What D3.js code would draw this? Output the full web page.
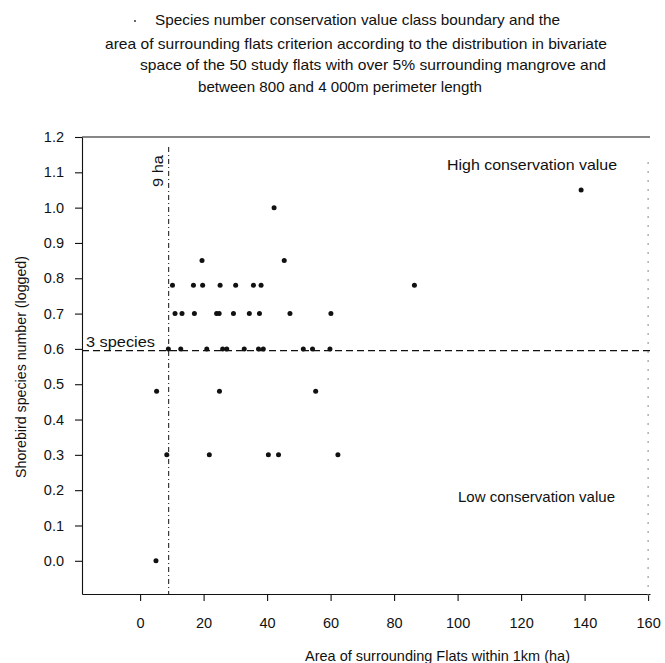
<!DOCTYPE html>
<html>
<head>
<meta charset="utf-8">
<script src="https://cdn.jsdelivr.net/npm/d3@7"></script>
<style>
  body { margin: 0; background: #fff; }
  text { font-family: "Liberation Sans", Arial, sans-serif; fill: #111; }
</style>
</head>
<body>
<div id="svg-container"></div>
<script>
////////////////////////////////////////////////////////////////////
////////////////////////////  Data  ////////////////////////////////
// area of surrounding flats (ha) / shorebird species number (logged)
const areaHa = [
  19.5, 45.4,
  10.2, 16.8, 19.7, 25.2, 30.1, 35.7, 38.1, 86.4,
  11.0, 13.2, 17.1, 24.1, 24.9, 29.4, 34.4, 37.6, 47.2, 60.1,
  8.9, 12.8, 21.0, 26.0, 27.3, 32.8, 37.3, 38.8, 51.4, 54.3, 59.8,
  42.2, 138.9,
  5.2, 25.0, 55.3,
  8.4, 21.8, 40.4, 43.6, 62.3,
  5.0,
];
const speciesLog = [
  0.85, 0.85,
  0.78, 0.78, 0.78, 0.78, 0.78, 0.78, 0.78, 0.78,
  0.70, 0.70, 0.70, 0.70, 0.70, 0.70, 0.70, 0.70, 0.70, 0.70,
  0.60, 0.60, 0.60, 0.60, 0.60, 0.60, 0.60, 0.60, 0.60, 0.60, 0.60,
  1.00, 1.05,
  0.48, 0.48, 0.48,
  0.30, 0.30, 0.30, 0.30, 0.30,
  0.00,
];

const xTicks = [0, 20, 40, 60, 80, 100, 120, 140, 160];
const yTicks = [0, 0.1, 0.2, 0.3, 0.4, 0.5, 0.6, 0.7, 0.8, 0.9, 1.0, 1.1, 1.2];

// class boundaries
const areaCriterion = 9;       // 9 ha
const speciesBoundary = 0.595; // 3 species

const titleLines = [
  "Species number conservation value class boundary and the",
  "area of surrounding flats criterion according to the distribution in bivariate",
  "space of the 50 study flats with over 5% surrounding mangrove  and",
  "between 800 and 4 000m perimeter length",
];

////////////////////////////////////////////////////////////////////
////////////////////////////  Init  ////////////////////////////////
const width = 665;
const height = 663;
const margin = { top: 137, right: 15, bottom: 69, left: 82 };

const svg = d3
  .select("#svg-container")
  .append("svg")
  .attr("width", width)
  .attr("height", height);

const x = d3
  .scaleLinear()
  .domain([-18.3, 160.6])
  .range([margin.left, width - margin.right]);

const y = d3
  .scaleLinear()
  .domain([-0.094, 1.2])
  .range([height - margin.bottom, margin.top]);

// title (scan lines have uneven widths)
const titleX = [155, 105, 140, 198];
const titleY = [25, 49, 70, 92];
const titleW = [405, 502, 466, 284];
svg
  .selectAll(".title")
  .data(titleLines)
  .enter()
  .append("text")
  .attr("class", "title")
  .attr("x", (d, i) => titleX[i])
  .attr("y", (d, i) => titleY[i])
  .attr("textLength", (d, i) => titleW[i])
  .attr("lengthAdjust", "spacingAndGlyphs")
  .style("font-size", "14.5px")
  .text((d) => d);

svg
  .append("circle")
  .attr("cx", 135)
  .attr("cy", 21)
  .attr("r", 0.9)
  .attr("fill", "#222");

////////////////////////////////////////////////////////////////////
////////////////////////////  Axes  ////////////////////////////////
const xAxis = svg
  .append("g")
  .attr("transform", `translate(0,${y.range()[0]})`)
  .call(
    d3.axisBottom(x).tickValues(xTicks).tickSize(7).tickPadding(17).tickSizeOuter(0)
  );

const yAxis = svg
  .append("g")
  .attr("transform", `translate(${x.range()[0]},0)`)
  .call(
    d3
      .axisLeft(y)
      .tickValues(yTicks)
      .tickFormat(d3.format(".1f"))
      .tickSize(7)
      .tickPadding(11)
      .tickSizeOuter(0)
  );

[xAxis, yAxis].forEach((a) => {
  a.selectAll("text").style("font-size", "14.5px").attr("fill", "#111");
  a.selectAll("line, path").attr("stroke", "#111").attr("stroke-width", 1.1);
});

// top and right frame
svg
  .append("line")
  .attr("x1", x.range()[0])
  .attr("x2", x.range()[1])
  .attr("y1", y.range()[1])
  .attr("y2", y.range()[1])
  .attr("stroke", "#111")
  .attr("stroke-width", 1.1);

svg
  .append("line")
  .attr("x1", x(160))
  .attr("x2", x(160))
  .attr("y1", y.range()[1] + 25)
  .attr("y2", y.range()[0] + 6)
  .attr("stroke", "#888")
  .attr("stroke-width", 1)
  .attr("stroke-dasharray", "2,7");

// axis titles
svg
  .append("text")
  .attr("x", 305)
  .attr("y", 661)
  .attr("textLength", 265)
  .attr("lengthAdjust", "spacingAndGlyphs")
  .style("font-size", "14.5px")
  .text("Area of surrounding Flats within 1km (ha)");

svg
  .append("text")
  .attr("transform", `translate(26,${367 + 111}) rotate(-90)`)
  .attr("textLength", 222)
  .attr("lengthAdjust", "spacingAndGlyphs")
  .style("font-size", "14.5px")
  .text("Shorebird species number (logged)");

////////////////////////////////////////////////////////////////////
////////////////////////////  Boundaries  //////////////////////////
svg
  .append("line")
  .attr("x1", x.range()[0])
  .attr("x2", x.range()[1])
  .attr("y1", y(speciesBoundary))
  .attr("y2", y(speciesBoundary))
  .attr("stroke", "#111")
  .attr("stroke-width", 1.1)
  .attr("stroke-dasharray", "7,4");

svg
  .append("line")
  .attr("x1", x(areaCriterion))
  .attr("x2", x(areaCriterion))
  .attr("y1", y.range()[1] + 10)
  .attr("y2", y.range()[0])
  .attr("stroke", "#111")
  .attr("stroke-width", 1)
  .attr("stroke-dasharray", "5,3,1,3");

svg
  .append("text")
  .attr("transform", `translate(${x(areaCriterion) - 6},${171 + 16}) rotate(-90)`)
  .attr("textLength", 32)
  .attr("lengthAdjust", "spacingAndGlyphs")
  .style("font-size", "15px")
  .text("9 ha");

svg
  .append("text")
  .attr("x", 86)
  .attr("y", y(speciesBoundary) - 4)
  .attr("textLength", 69)
  .attr("lengthAdjust", "spacingAndGlyphs")
  .style("font-size", "14.5px")
  .text("3 species");

svg
  .append("text")
  .attr("x", 447)
  .attr("y", 170)
  .attr("textLength", 170)
  .attr("lengthAdjust", "spacingAndGlyphs")
  .style("font-size", "14.5px")
  .text("High conservation value");

svg
  .append("text")
  .attr("x", 458)
  .attr("y", 502)
  .attr("textLength", 157)
  .attr("lengthAdjust", "spacingAndGlyphs")
  .style("font-size", "14.5px")
  .text("Low conservation value");

////////////////////////////////////////////////////////////////////
////////////////////////////  Points  //////////////////////////////
svg
  .selectAll(".flat")
  .data(areaHa)
  .enter()
  .append("circle")
  .attr("class", "flat")
  .attr("cx", (d) => x(d))
  .attr("cy", (d, i) => y(speciesLog[i]))
  .attr("r", 2.5)
  .attr("fill", "#111");
</script>
</body>
</html>
